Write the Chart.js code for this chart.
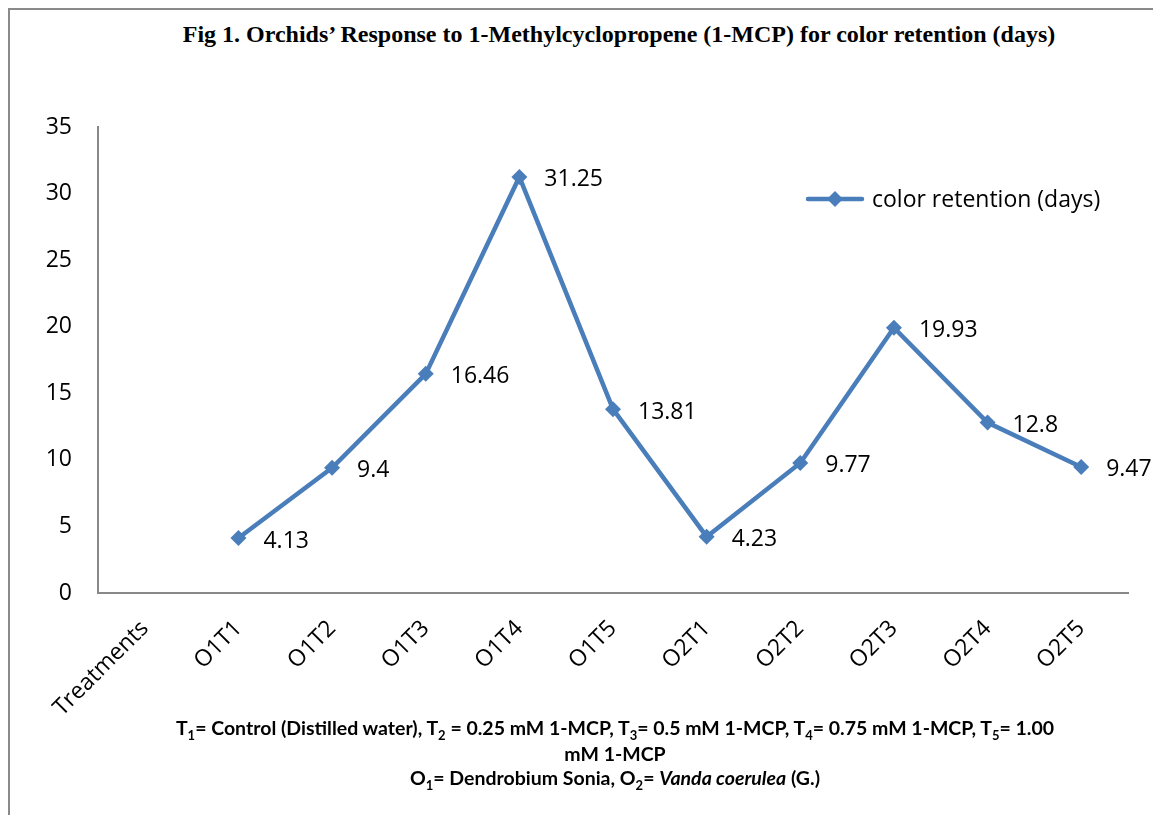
<!DOCTYPE html>
<html lang="en">
<head>
  <meta charset="UTF-8">
  <title>Orchids color retention</title>
  <script src="https://cdn.jsdelivr.net/npm/chart.js"></script>
  <style>
    body {
      margin: 0;
      width: 1153px;
      height: 815px;
      overflow: hidden;
      background: #fff;
      position: relative;
    }
    #frame {
      position: absolute;
      left: 8px;
      top: 8px;
      width: 1240px;
      height: 900px;
      border-left: 2px solid #8a8a8a;
      border-top: 2px solid #8a8a8a;
    }
    #chartBox {
      position: absolute;
      left: 0;
      top: 0;
      width: 1153px;
      height: 815px;
    }
    #title {
      position: absolute;
      left: 0;
      width: 1238px;
      top: 21px;
      text-align: center;
      font-family: "Liberation Serif", serif;
      font-weight: bold;
      font-size: 24px;
    }
    #notes {
      position: absolute;
      left: 0;
      width: 1230px;
      top: 716px;
      text-align: center;
      font-family: Lato, sans-serif;
      font-weight: bold;
      font-size: 19.5px;
      line-height: 24px;
    }
    #notes sub {
      font-size: 13px;
      vertical-align: baseline;
      position: relative;
      top: 0.35em;
    }
  </style>
</head>
<body>
  <div id="frame"></div>
  <div id="title">Fig 1. Orchids’ Response to 1-Methylcyclopropene (1-MCP) for color retention (days)</div>
  <div id="chartBox"><canvas id="chart"></canvas></div>
  <div id="notes">
    T<sub>1</sub>= Control (Distilled water), T<sub>2</sub> = 0.25 mM 1-MCP, T<sub>3</sub>= 0.5 mM 1-MCP, T<sub>4</sub>= 0.75 mM 1-MCP, T<sub>5</sub>= 1.00<br>
    mM 1-MCP<br>
    O<sub>1</sub>= Dendrobium Sonia, O<sub>2</sub>= <i>Vanda coerulea</i> (G.)
  </div>

  <script>
    const categories = ['Treatments', 'O1T1', 'O1T2', 'O1T3', 'O1T4', 'O1T5', 'O2T1', 'O2T2', 'O2T3', 'O2T4', 'O2T5'];
    const colorRetention = [null, 4.13, 9.4, 16.46, 31.25, 13.81, 4.23, 9.77, 19.93, 12.8, 9.47];
    const seriesName = 'color retention (days)';
    const yMin = 0, yMax = 35, yStep = 5;

    const blue = '#4a7ebb';
    const tickFont = { family: 'Open Sans', size: 23 };

    // value labels to the right of each point
    const valueLabels = {
      id: 'valueLabels',
      afterDatasetsDraw(chart) {
        const ctx = chart.ctx;
        const meta = chart.getDatasetMeta(0);
        ctx.save();
        ctx.font = '23px "Open Sans"';
        ctx.fillStyle = '#000';
        ctx.textAlign = 'left';
        ctx.textBaseline = 'middle';
        meta.data.forEach((pt, i) => {
          const v = colorRetention[i];
          if (v == null) return;
          ctx.fillText(String(v), pt.x + 25, pt.y + 3);
        });
        ctx.restore();
      }
    };

    // legend drawn inside the plot, top right
    const innerLegend = {
      id: 'innerLegend',
      afterDraw(chart) {
        const ctx = chart.ctx;
        const area = chart.chartArea;
        const x0 = area.right - 320, y0 = area.top + 72;
        ctx.save();
        ctx.strokeStyle = blue;
        ctx.lineWidth = 4.5;
        ctx.lineCap = 'round';
        ctx.beginPath();
        ctx.moveTo(x0, y0);
        ctx.lineTo(x0 + 54, y0);
        ctx.stroke();
        ctx.fillStyle = blue;
        ctx.beginPath();
        ctx.moveTo(x0 + 27, y0 - 8);
        ctx.lineTo(x0 + 35, y0);
        ctx.lineTo(x0 + 27, y0 + 8);
        ctx.lineTo(x0 + 19, y0);
        ctx.closePath();
        ctx.fill();
        ctx.font = '23px "Open Sans"';
        ctx.fillStyle = '#000';
        ctx.textBaseline = 'middle';
        ctx.fillText(seriesName, x0 + 64, y0 + 1);
        ctx.restore();
      }
    };

    new Chart(document.getElementById('chart'), {
      type: 'line',
      data: {
        labels: categories,
        datasets: [{
          label: seriesName,
          data: colorRetention,
          borderColor: blue,
          backgroundColor: blue,
          borderWidth: 4.5,
          pointStyle: 'rectRot',
          pointRadius: 8,
          pointHoverRadius: 8,
          pointBorderWidth: 0,
          tension: 0,
          spanGaps: true
        }]
      },
      options: {
        responsive: true,
        maintainAspectRatio: false,
        animation: false,
        layout: { padding: { left: 38, top: 127, right: 25, bottom: 92 } },
        plugins: {
          legend: { display: false },
          title: { display: false },
          tooltip: { enabled: false }
        },
        scales: {
          x: {
            offset: true,
            grid: { display: false, drawTicks: false },
            border: { display: true, color: '#888', width: 2 },
            ticks: {
              color: '#000',
              font: tickFont,
              minRotation: 45,
              maxRotation: 45,
              padding: 22,
              autoSkip: false
            },
            afterFit(scale) { scale.height = 130; }
          },
          y: {
            min: yMin,
            max: yMax,
            grid: { display: false, drawTicks: false },
            border: { display: true, color: '#888', width: 2 },
            ticks: {
              stepSize: yStep,
              color: '#000',
              font: tickFont,
              padding: 26
            },
            afterFit(scale) { scale.width = 60; }
          }
        }
      },
      plugins: [valueLabels, innerLegend]
    });
  </script>
</body>
</html>
